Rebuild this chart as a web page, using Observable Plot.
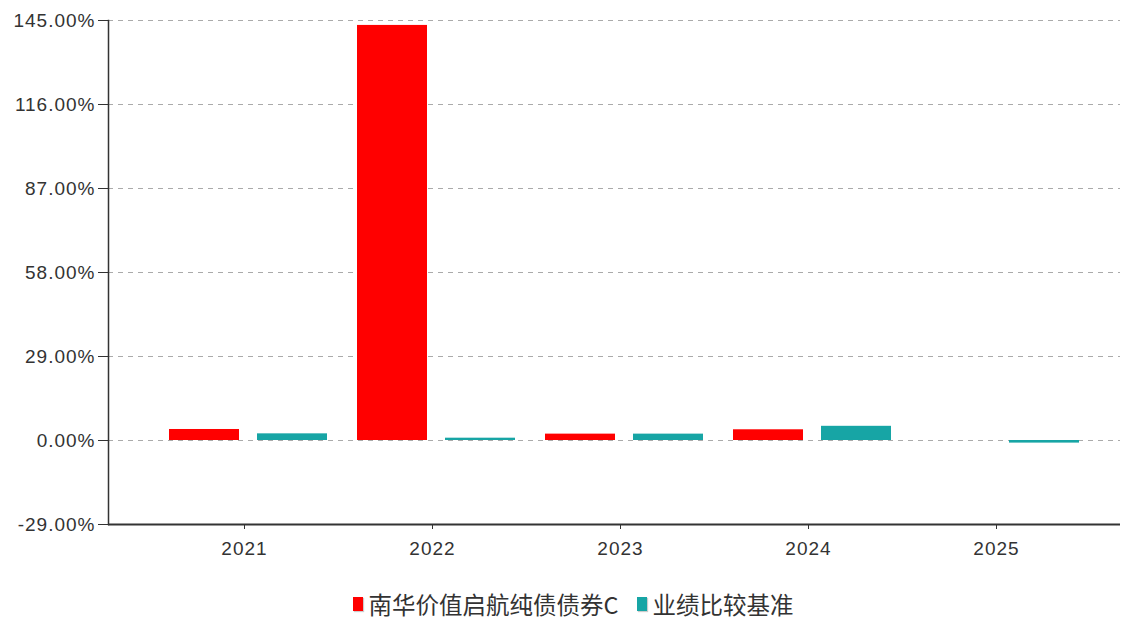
<!DOCTYPE html>
<html>
<head>
<meta charset="utf-8">
<script src="https://cdn.jsdelivr.net/npm/d3@7"></script>
<script src="https://cdn.jsdelivr.net/npm/@observablehq/plot@0.6"></script>
<style>
  html, body { margin: 0; padding: 0; background: #fff; }
  #chart svg { display: block; }
  .legend { display: flex; justify-content: center; align-items: center; height: 36px; margin-top: 16px;
            font-family: "Noto Sans CJK SC", sans-serif; font-size: 23.5px; color: #333; padding-left: 34px; }
  .legend .sw { display: inline-block; width: 10px; height: 14px; margin-right: 6px; box-shadow: 1px 1px 1px #ccc; }
  .legend .item { display: inline-flex; align-items: center; margin-right: 18px; }
</style>
</head>
<body>
<div id="chart"></div>
<script>
const years = ["2021", "2022", "2023", "2024", "2025"];
const fundReturns = [3.8, 143.3, 2.2, 3.7, null];
const benchReturns = [2.3, 0.8, 2.2, 4.9, -0.9];
const yTicks = [-29, 0, 29, 58, 87, 116, 145];
const seriesNames = ["南华价值启航纯债债券C", "业绩比较基准"];
const seriesColors = ["#FF0000", "#17A5A5"];

const rows = years.map((y, i) => ({year: y, fund: fundReturns[i], bench: benchReturns[i]}));

const chart = Plot.plot({
  width: 1130,
  height: 570,
  marginTop: 20,
  marginBottom: 46,
  marginLeft: 108,
  marginRight: 10,
  style: {fontFamily: "'Liberation Sans', Arial, sans-serif", fontSize: "19px", color: "#333", letterSpacing: "1px"},
  x: {type: "band", domain: years, range: [150, 1090], padding: 0, label: null, tickSize: 5, tickPadding: 12},
  y: {domain: [-29, 145], ticks: yTicks, tickFormat: d => d.toFixed(2) + "%", label: null, tickSize: 10, tickPadding: 3},
  marks: [
    Plot.ruleY(yTicks.filter(t => t > -29), {stroke: "#aaa", strokeDasharray: "5,5", strokeWidth: 1}),
    Plot.barY(rows, {x: "year", y: "fund", fill: seriesColors[0], insetLeft: 19, insetRight: 99}),
    Plot.barY(rows, {x: "year", y: "bench", fill: seriesColors[1], insetLeft: 107, insetRight: 11}),
    Plot.ruleY([-29], {stroke: "#333", strokeWidth: 2}),
    Plot.frame({anchor: "left", stroke: "#333", strokeWidth: 1.5})
  ]
});
document.getElementById("chart").appendChild(chart);

const legend = document.createElement("div");
legend.className = "legend";
seriesNames.forEach((name, i) => {
  const item = document.createElement("span");
  item.className = "item";
  const sw = document.createElement("span");
  sw.className = "sw";
  sw.style.background = seriesColors[i];
  item.appendChild(sw);
  item.appendChild(document.createTextNode(name));
  legend.appendChild(item);
});
document.body.appendChild(legend);
</script>
</body>
</html>
